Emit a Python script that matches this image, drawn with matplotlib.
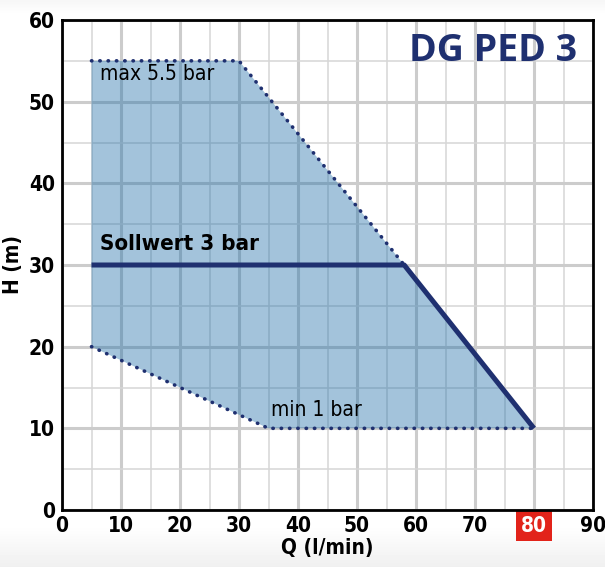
import numpy as np
import matplotlib
matplotlib.use("Agg")
import matplotlib.pyplot as plt
from matplotlib.ticker import MultipleLocator

# Data
area_q = [5, 30, 58, 80, 35, 5]
area_h = [55, 55, 30, 10, 10, 20]
max_q = [5, 30, 58]
max_h = [55, 55, 30]
min_q = [5, 35, 80]
min_h = [20, 10, 10]
soll_q = [5, 58, 80]
soll_h = [30, 30, 10]
x_ticks = [0, 10, 20, 30, 40, 50, 60, 70, 80, 90]
y_ticks = [0, 10, 20, 30, 40, 50, 60]
highlight_tick = 80
title = "DG PED 3"

NAVY = "#1f3070"
FONT = dict(family="DejaVu Sans", stretch="condensed")

fig = plt.figure(figsize=(6.05, 5.67), dpi=100)

# subtle background gradient
bg = fig.add_axes([0, 0, 1, 1], zorder=-10)
grad = np.ones((567, 1))
grad[:15, 0] = np.linspace(0.965, 1.0, 15)
grad[525:, 0] = np.linspace(1.0, 0.94, 42)
bg.imshow(grad, aspect="auto", cmap="gray", vmin=0, vmax=1, extent=[0, 1, 0, 1])
bg.axis("off")

ax = fig.add_axes([62/605, 1-510/567, (593-62)/605, (510-20)/567])
ax.set_xlim(0, 90)
ax.set_ylim(0, 60)
ax.set_facecolor("white")

ax.xaxis.set_major_locator(MultipleLocator(10))
ax.yaxis.set_major_locator(MultipleLocator(10))
ax.xaxis.set_minor_locator(MultipleLocator(5))
ax.yaxis.set_minor_locator(MultipleLocator(5))
ax.grid(which="major", color="#cccccc", linewidth=2.2, zorder=0)
ax.grid(which="minor", color="#d6d6d6", linewidth=1.1, zorder=0)
ax.set_axisbelow(True)

ax.fill(area_q, area_h, color=(25/255, 107/255, 167/255), alpha=0.4, linewidth=0, zorder=1)
ax.plot(max_q, max_h, linestyle=(0, (0.1, 2.2)), dash_capstyle="round", color=NAVY, linewidth=2.6, zorder=3)
ax.plot(min_q, min_h, linestyle=(0, (0.1, 2.2)), dash_capstyle="round", color=NAVY, linewidth=2.6, zorder=3)
ax.plot(soll_q, soll_h, color=NAVY, linewidth=3.6, solid_capstyle="butt", zorder=4)

ax.text(6.4, 53.4, "max 5.5 bar", fontsize=15, color="black", va="center", ha="left", **FONT)
ax.text(6.4, 32.6, "Sollwert 3 bar", fontsize=16, fontweight="bold", color="black", va="center", ha="left", **FONT)
ax.text(35.5, 12.3, "min 1 bar", fontsize=15, color="black", va="center", ha="left", **FONT)
ax.text(87.3, 56.2, title, family=["Open Sans", "DejaVu Sans"], fontsize=27, fontweight="bold",
        color=NAVY, va="center", ha="right")

for s in ax.spines.values():
    s.set_color("black")
    s.set_linewidth(2.0)
    s.set_zorder(5)

ax.set_xticks(x_ticks)
ax.set_yticks(y_ticks)
ax.tick_params(which="both", length=0)
ax.tick_params(axis="x", pad=4)
ax.tick_params(axis="y", pad=5)
for lab in ax.get_xticklabels() + ax.get_yticklabels():
    lab.set_family("DejaVu Sans")
    lab.set_stretch("condensed")
    lab.set_fontweight("bold")
    lab.set_fontsize(15)
for lab, v in zip(ax.get_xticklabels(), x_ticks):
    if v == highlight_tick:
        lab.set_color("white")
        lab.set_bbox(dict(facecolor="#e2231a", edgecolor="none", boxstyle="square,pad=0.25"))

ax.set_xlabel("Q (l/min)", fontweight="bold", fontsize=15, labelpad=2, **FONT)
ax.set_ylabel("H (m)", fontweight="bold", fontsize=15, labelpad=4, **FONT)

fig.savefig("out.png", dpi=100)
